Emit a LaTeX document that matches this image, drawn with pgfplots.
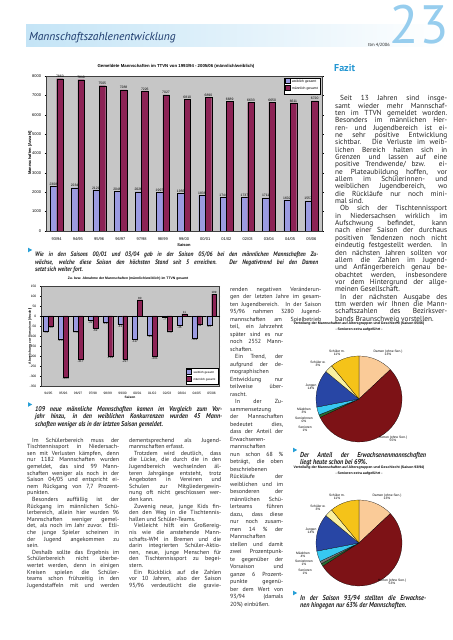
\documentclass[border=0pt]{standalone}
\usepackage{fontspec}
\setmainfont{PT Sans}
\newfontfamily\arial{Liberation Sans}
\newfontfamily\capfont[FakeStretch=0.86]{PT Sans}
\usepackage{pgfplots}
\pgfplotsset{compat=1.18}

\definecolor{fem}{RGB}{155,155,225}
\definecolor{mal}{RGB}{140,35,85}
\definecolor{plotgray}{RGB}{198,198,198}
\definecolor{titleblue}{RGB}{28,58,108}
\definecolor{bulletblue}{RGB}{40,160,215}
\definecolor{band}{RGB}{196,228,246}
\definecolor{bignum}{RGB}{150,205,238}
\definecolor{fazit}{RGB}{35,150,210}
\definecolor{txt}{RGB}{35,35,35}
\definecolor{pDamen}{RGB}{250,203,152}
\definecolor{pHerren}{RGB}{125,18,22}
\definecolor{pSen}{RGB}{40,110,50}
\definecolor{pSenin}{RGB}{120,120,120}
\definecolor{pMaed}{RGB}{55,200,240}
\definecolor{pJung}{RGB}{40,70,165}
\definecolor{pSchw}{RGB}{250,240,160}
\definecolor{pSchm}{RGB}{245,195,25}

\newcommand\J[1]{\hbox to\hsize{#1}}
\newcommand\E[1]{\hbox{#1}}
\newcommand\I{\hspace*{5bp}}
\newcommand\tcol[3]{\vtop{\hsize=#1\relax #2\lineskiplimit=-50bp\relax #3}}
\newcommand\bodyfont{\color{txt}\fontsize{5.9bp}{6.6bp}\selectfont}
\newcommand\colfont{\color{txt}\fontsize{5.9bp}{7.5bp}\selectfont}
\newcommand\fazfont{\color{txt}\fontsize{7.3bp}{7.35bp}\selectfont}
\newcommand\capf[1]{\color{txt}\capfont\bfseries\itshape\fontsize{#1bp}{7.4bp}\selectfont}
\newcommand\chf[1]{\arial\fontsize{#1bp}{#1bp}\selectfont}
\newcommand\slice[3]{\fill[#3,draw=black,line width=0.2pt] (axis cs:0,0) -- ++({90-3.6*#1}:43bp) arc[start angle={90-3.6*#1}, end angle={90-3.6*#2}, radius=43bp] -- cycle;}
\newcommand\tri[2]{\fill[bulletblue] (#1,#2+2.3) -- (#1+4.2,#2) -- (#1,#2-2.3) -- cycle;}

\begin{document}
\begin{tikzpicture}[x=1bp,y=1bp]
\coordinate (A1) at (46,409);
\coordinate (A2) at (41,254);
\coordinate (P1) at (359,241);
\coordinate (P2) at (359,97);
% ---------------- header
\shade[left color=band, right color=white] (26,593) rectangle (447,615);
\node[anchor=base west, inner sep=0pt, text=titleblue] at (29,599) {\fontsize{11.5bp}{12bp}\selectfont\itshape Mannschaftszahlenentwicklung};
\node[anchor=base east, inner sep=0pt, text=bignum] at (449,596) {\fontsize{54bp}{54bp}\selectfont 23};
\node[anchor=base east, inner sep=0pt, text=txt] at (390,593.5) {\fontsize{4.5bp}{5bp}\selectfont ttm 4/2006};

% ---------------- chart 1
\node[anchor=base, inner sep=0pt] at (176,572) {\chf{4.3}\bfseries Gemeldete Mannschaften im TTVN von 1993/94 - 2005/06 (männlich/weiblich)};
\node[rotate=90, inner sep=0pt] at (30,487) {\chf{4}\bfseries Mannschaften [Anzahl]};
\node[inner sep=0pt] at (184,395) {\chf{4}\bfseries Saison};
\begin{axis}[
  at={(A1)}, anchor=south west, scale only axis, width=276bp, height=155bp,
  xmin=-0.5, xmax=12.5, ymin=0, ymax=8000,
  ytick={0,1000,...,8000}, xtick={0,...,12},
  xticklabels={93/94,94/95,95/96,96/97,97/98,98/99,99/00,00/01,01/02,02/03,03/04,04/05,05/06},
  axis background/.style={fill=plotgray},
  axis line style={draw=gray!50!black, line width=0.3pt},
  tick style={draw=black, line width=0.3pt}, major tick length=1.5bp, tick align=outside,
  xtick style={draw=none},
  ticklabel style={font=\chf{4}},
  xticklabel style={yshift=-1.5bp},
  /pgf/number format/1000 sep={}, /pgf/number format/assume math mode=true,
  ybar=0pt, bar width=6.5bp,
  nodes near coords,
  every node near coord/.append style={font=\chf{3.4}, inner sep=0.8bp},
  legend style={at={(0.995,0.99)}, anchor=north east, font=\chf{3.4}, draw=black, line width=0.2pt, fill=white, inner sep=0.8bp, row sep=-1bp, cells={anchor=west}},
  legend image code/.code={\fill[#1] (0,-0.1em) rectangle (0.5em,0.4em);},
]
\addplot[fill=fem, draw=black, line width=0.12pt] coordinates {(0,2308) (1,2234) (2,2121) (3,2048) (4,2026) (5,1997) (6,1956) (7,1838) (8,1744) (9,1737) (10,1711) (11,1602) (12,1557)};
\addplot[fill=mal, draw=black, line width=0.12pt] coordinates {(0,7860) (1,7810) (2,7505) (3,7288) (4,7226) (5,7027) (6,6810) (7,6890) (8,6689) (9,6633) (10,6650) (11,6611) (12,6720)};
\legend{weiblich gesamt, männlich gesamt}
\end{axis}

% caption 1
\tri{28}{390}
\node[anchor=base west, inner sep=0pt] at (35,388) {\tcol{283bp}{\capf{6.5}}{%
\J{Wie in den Saisons 00/01 und 03/04 gab in der Saison 05/06 bei den männlichen Mannschaften Zu-}
\J{wächse, welche diese Saison den höchsten Stand seit 5 erreichen. Der Negativtrend bei den Damen}
\E{setzt sich weiter fort.}}};

% ---------------- chart 2
\node[anchor=base, inner sep=0pt] at (128,360) {\chf{3.4}\bfseries Zu- bzw. Abnahme der Mannschaften (männlich/weiblich) im TTVN gesamt};
\node[rotate=90, inner sep=0pt] at (30,304) {\chf{3.3}\bfseries Abweichung zur Vorsaison [Anzahl]};
\node[inner sep=0pt] at (130,243) {\chf{3.3}\bfseries Saison};
\begin{axis}[
  at={(A2)}, anchor=south west, scale only axis, width=178bp, height=100bp,
  xmin=-0.5, xmax=11.5, ymin=-350, ymax=150,
  ytick={-350,-300,...,150}, xtick={0,...,11},
  xticklabels={94/95,95/96,96/97,97/98,98/99,99/00,00/01,01/02,02/03,03/04,04/05,05/06},
  axis background/.style={fill=plotgray},
  axis line style={draw=gray!50!black, line width=0.3pt},
  tick style={draw=black, line width=0.3pt}, major tick length=1.2bp, tick align=outside,
  xtick style={draw=none},
  ticklabel style={font=\chf{3.3}},
  xticklabel style={yshift=-1bp},
  extra y ticks={0}, extra y tick style={grid=major, major grid style={black, line width=0.3pt}, yticklabels={}},
  /pgf/number format/1000 sep={}, /pgf/number format/assume math mode=true,
  ybar=0pt, bar width=4.9bp,
  nodes near coords,
  every node near coord/.append style={font=\chf{3}, inner sep=0.7bp},
  legend style={at={(0.995,0.015)}, anchor=south east, font=\chf{2.9}, draw=black, line width=0.2pt, fill=white, inner sep=0.6bp, row sep=-1bp, cells={anchor=west}},
  legend image code/.code={\fill[#1] (0,-0.1em) rectangle (0.5em,0.4em);},
]
\addplot[fill=fem, draw=black, line width=0.12pt] coordinates {(0,-74) (1,-113) (2,-73) (3,-22) (4,-29) (5,-41) (6,-117) (7,-94) (8,-7) (9,-46) (10,-109) (11,-45)};
\addplot[fill=mal, draw=black, line width=0.12pt] coordinates {(0,-50) (1,-305) (2,-217) (3,-62) (4,-199) (5,-217) (6,80) (7,-201) (8,-73) (9,11) (10,-39) (11,109)};
\legend{weiblich gesamt, männlich gesamt}
\end{axis}

% caption 2
\tri{28}{235.5}
\node[anchor=base west, inner sep=0pt] at (35,233.5) {\tcol{187bp}{\capf{7}}{%
\J{109 neue männliche Mannschaften kamen im Vergleich zum Vor-}
\J{jahr hinzu, in den weiblichen Konkurrenzen wurden 45 Mann-}
\E{schaften weniger als in der letzten Saison gemeldet.}}};

% ---------------- body column 1
\node[anchor=base west, inner sep=0pt] at (27,202) {\tcol{92bp}{\bodyfont}{%
\J{\I Im Schülerbereich muss der}
\J{Tischtennissport in Niedersach-}
\J{sen mit Verlusten kämpfen, denn}
\J{nur 1182 Mannschaften wurden}
\J{gemeldet, das sind 99 Mann-}
\J{schaften weniger als noch in der}
\J{Saison 04/05 und entspricht ei-}
\J{nem Rückgang von 7,7 Prozent-}
\E{punkten.}
\J{\I Besonders auffällig ist der}
\J{Rückgang im männlichen Schü-}
\J{lerbereich, allein hier wurden 96}
\J{Mannschaften weniger gemel-}
\J{det, als noch im Jahr zuvor. Etli-}
\J{che junge Spieler scheinen in}
\J{der Jugend angekommen zu}
\E{sein.}
\J{\I Deshalb sollte das Ergebnis im}
\J{Schülerbereich nicht überbe-}
\J{wertet werden, denn in einigen}
\J{Kreisen spielen die Schüler-}
\J{teams schon frühzeitig in den}
\J{Jugendstaffeln mit und werden}}};

% ---------------- body column 2
\node[anchor=base west, inner sep=0pt] at (129,202) {\tcol{92bp}{\bodyfont}{%
\J{dementsprechend als Jugend-}
\E{mannschaften erfasst.}
\J{\I Trotzdem wird deutlich, dass}
\J{die Lücke, die durch die in den}
\J{Jugendbereich wechselnden äl-}
\J{teren Jahrgänge entsteht, trotz}
\J{Angeboten in Vereinen und}
\J{Schulen zur Mitgliedergewin-}
\J{nung oft nicht geschlossen wer-}
\E{den kann.}
\J{\I Zuwenig neue, junge Kids fin-}
\J{den den Weg in die Tischtennis-}
\E{hallen und Schüler-Teams.}
\J{\I Vielleicht hilft ein Großereig-}
\J{nis wie die anstehende Mann-}
\J{schafts-WM in Bremen und die}
\J{darin integrierten Schüler-Aktio-}
\J{nen, neue, junge Menschen für}
\J{den Tischtennissport zu begei-}
\E{stern.}
\J{\I Ein Rückblick auf die Zahlen}
\J{vor 10 Jahren, also der Saison}
\J{95/96 verdeutlicht die gravie-}}};

% ---------------- column 3
\node[anchor=base west, inner sep=0pt] at (230,353) {\tcol{91bp}{\colfont}{%
\J{renden negativen Veränderun-}
\J{gen der letzten Jahre im gesam-}
\J{ten Jugendbereich. In der Saison}
\J{95/96 nahmen 3280 Jugend-}
\J{mannschaften am Spielbetrieb}}};
\node[anchor=base west, inner sep=0pt] at (230,315.5) {\tcol{53bp}{\colfont}{%
\J{teil, ein Jahrzehnt}
\J{später sind es nur}
\J{noch 2552 Mann-}
\E{schaften.}
\J{\I Ein Trend, der}
\J{aufgrund der de-}
\J{mographischen}
\J{Entwicklung nur}
\J{teilweise über-}
\E{rascht.}
\J{\I In der Zu-}
\J{sammensetzung}
\J{der Mannschaften}
\J{bedeutet dies,}
\J{dass der Anteil der}
\J{Erwachsenen-}
\J{mannschaften}
\J{nun schon 68 \%}
\J{beträgt, die oben}
\J{beschriebenen}
\J{Rückläufe der}
\J{weiblichen und im}
\J{besonderen der}
\J{männlichen Schü-}
\J{lerteams führen}
\J{dazu, dass diese}
\J{nur noch zusam-}
\J{men 14 \% der}
\J{Mannschaften}
\J{stellen und damit}
\J{zwei Prozentpunk-}
\J{te gegenüber der}
\J{Vorsaison und}
\J{ganze 6 Prozent-}
\J{punkte gegenü-}
\J{ber dem Wert von}
\J{93/94 (damals}
\E{20\%) einbüßen.}}};

% ---------------- Fazit column
\node[anchor=base west, inner sep=0pt, text=fazit] at (334,568) {\fontsize{10bp}{11bp}\selectfont\bfseries Fazit};
\node[anchor=base west, inner sep=0pt] at (335,544.5) {\tcol{112bp}{\fazfont}{%
\J{\I Seit 13 Jahren sind insge-}
\J{samt wieder mehr Mannschaf-}
\J{ten im TTVN gemeldet worden.}
\J{Besonders im männlichen Her-}
\J{ren- und Jugendbereich ist ei-}
\J{ne sehr positive Entwicklung}
\J{sichtbar. Die Verluste im weib-}
\J{lichen Bereich halten sich in}
\J{Grenzen und lassen auf eine}
\J{positive Trendwende/ bzw. ei-}
\J{ne Plateaubildung hoffen, vor}
\J{allem im Schülerinnen- und}
\J{weiblichen Jugendbereich, wo}
\J{die Rückläufe nur noch mini-}
\E{mal sind.}
\J{\I Ob sich der Tischtennissport}
\J{in Niedersachsen wirklich im}
\J{Aufschwung befindet, kann}
\J{nach einer Saison der durchaus}
\J{positiven Tendenzen noch nicht}
\J{eindeutig festgestellt werden. In}
\J{den nächsten Jahren sollten vor}
\J{allem die Zahlen im Jugend-}
\J{und Anfängerbereich genau be-}
\J{obachtet werden, insbesondere}
\J{vor dem Hintergrund der allge-}
\E{meinen Gesellschaft.}
\J{\I In der nächsten Ausgabe des}
\J{ttm werden wir Ihnen die Mann-}
\J{schaftszahlen des Bezirksver-}
\E{bands Braunschweig vorstellen.}}};

% ---------------- pie 1 (05/06)
\node[anchor=base, inner sep=0pt] at (359,315) {\chf{3.5}\bfseries Verteilung der Mannschaften auf Altersgruppen und Geschlecht (Saison 05/06)};
\node[anchor=base, inner sep=0pt] at (359,309.5) {\chf{3.5}\bfseries - Senioren extra aufgeführt -};
\begin{axis}[at={(P1)}, anchor=center, scale only axis, width=86bp, height=86bp,
  xmin=-1, xmax=1, ymin=-1, ymax=1, hide axis, clip=false]
\slice{0}{13}{pDamen}
\slice{13}{68}{pHerren}
\slice{68}{69}{pSen}
\slice{69}{69}{pSenin}
\slice{69}{72}{pMaed}
\slice{72}{86}{pJung}
\slice{86}{89}{pSchw}
\slice{89}{100}{pSchm}
\end{axis}
\begin{scope}[every node/.style={inner sep=0pt, align=center, font=\chf{3.3}}]
\node at (337,287) {Schüler m.\\11\%};
\node at (318,276) {Schüler w.\\3\%};
\node at (311,253) {Jungen\\14\%};
\node at (304,229) {Mädchen\\3\%};
\node at (304,220) {Seniorinnen\\0\%};
\node at (305,211) {Senioren\\1\%};
\node at (388,287) {Damen (ohne Sen.)\\13\%};
\node at (393,201) {Herren (ohne Sen.)\\55\%};
\end{scope}
\tri{293}{190}
\node[anchor=base west, inner sep=0pt] at (300,188) {\tcol{126bp}{\capf{7.2}}{%
\J{Der Anteil der Erwachsenenmannschaften}
\E{liegt heute schon bei 69\%.}}};

% ---------------- pie 2 (93/94)
\node[anchor=base, inner sep=0pt] at (359,171) {\chf{3.5}\bfseries Verteilung der Mannschaften auf Altersgruppen und Geschlecht (Saison 93/94)};
\node[anchor=base, inner sep=0pt] at (359,165.5) {\chf{3.5}\bfseries - Senioren extra aufgeführt -};
\begin{axis}[at={(P2)}, anchor=center, scale only axis, width=86bp, height=86bp,
  xmin=-1, xmax=1, ymin=-1, ymax=1, hide axis, clip=false]
\slice{0}{13}{pDamen}
\slice{13}{66}{pHerren}
\slice{66}{67}{pSen}
\slice{67}{68}{pSenin}
\slice{68}{72}{pMaed}
\slice{72}{86}{pJung}
\slice{86}{89}{pSchw}
\slice{89}{100}{pSchm}
\end{axis}
\begin{scope}[every node/.style={inner sep=0pt, align=center, font=\chf{3.3}}]
\node at (337,143) {Schüler m.\\11\%};
\node at (318,132) {Schüler w.\\3\%};
\node at (311,109) {Jungen\\14\%};
\node at (303,85) {Mädchen\\4\%};
\node at (304,77) {Seniorinnen\\1\%};
\node at (305,68) {Senioren\\1\%};
\node at (387,143) {Damen (ohne Sen.)\\13\%};
\node at (392,58) {Herren (ohne Sen.)\\53\%};
\end{scope}
\tri{293}{47}
\node[anchor=base west, inner sep=0pt] at (300,45) {\tcol{126bp}{\capf{7.2}}{%
\J{In der Saison 93/94 stellten die Erwachse-}
\E{nen hingegen nur 63\% der Mannschaften.}}};

\pgfresetboundingbox
\path (0,0) rectangle (453,640);
\end{tikzpicture}
\end{document}
